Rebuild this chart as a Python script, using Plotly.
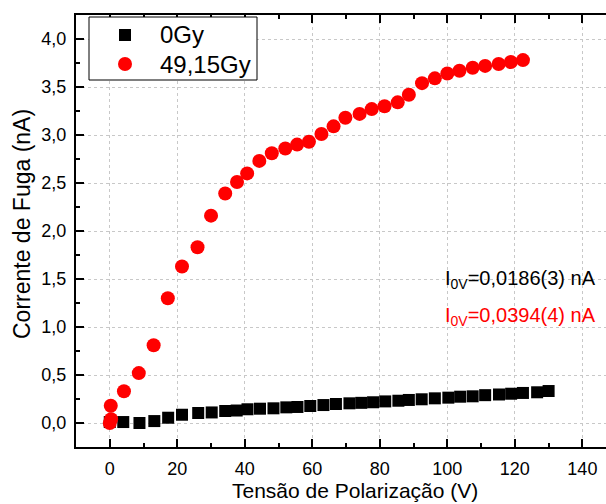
import plotly.graph_objects as go

# Bias voltage (V) and leakage current (nA) for the unirradiated sample
v_0gy = [0, 4, 8.8, 13.2, 17.3, 21.4, 26.2, 30.2, 34.2, 37.6, 40.8, 44.5, 48.5,
         52.3, 55.6, 59.4, 63.3, 67, 71, 74.5, 78, 81.6, 85.5, 88.6, 92.4, 96.3,
         100.3, 103.8, 107.5, 111.2, 115.3, 118.9, 122.4, 126.6, 130]
i_0gy = [0.01, 0.01, 0.0, 0.02, 0.055, 0.086, 0.104, 0.11, 0.125, 0.13, 0.143,
         0.149, 0.153, 0.163, 0.167, 0.177, 0.187, 0.198, 0.205, 0.21, 0.216,
         0.225, 0.232, 0.24, 0.247, 0.257, 0.264, 0.274, 0.278, 0.29, 0.297,
         0.305, 0.313, 0.32, 0.333]

# Bias voltage (V) and leakage current (nA) after 49,15 Gy
v_49gy = [0, 0.4, 0.3, 4.2, 8.6, 13, 17.2, 21.4, 26, 30, 34.2, 37.7, 40.7, 44.3,
          48, 52, 55.5, 59, 62.7, 66.3, 69.8, 74, 77.6, 81.4, 85.3, 88.6, 92.5,
          96.3, 100, 103.6, 107.5, 111.2, 115.2, 118.8, 122.4]
i_49gy = [0.0, 0.04, 0.18, 0.33, 0.52, 0.81, 1.30, 1.63, 1.83, 2.16, 2.39, 2.51,
          2.60, 2.73, 2.81, 2.86, 2.90, 2.93, 3.01, 3.09, 3.18, 3.22, 3.27, 3.30,
          3.34, 3.42, 3.54, 3.59, 3.64, 3.67, 3.70, 3.72, 3.74, 3.76, 3.78]

series_names = ["0Gy", "49,15Gy"]
series_colors = ["black", "#ff0000"]
series_symbols = ["square", "circle"]

x_ticks = [0, 20, 40, 60, 80, 100, 120, 140]
y_ticks = [0.0, 0.5, 1.0, 1.5, 2.0, 2.5, 3.0, 3.5, 4.0]

x_title = "Tensão de Polarização (V)"
y_title = "Corrente de Fuga (nA)"

FONT = "Arial"

# Figure geometry (pixels)
W, H = 606, 504
ML, MR, MT, MB = 76, 0, 15, 57
PW, PH = W - ML - MR, H - MT - MB


def px_x(p):
    return (p - ML) / PW


def px_y(p):
    return (H - MB - p) / PH


fig = go.Figure()
fig.add_trace(go.Scatter(
    x=v_0gy, y=i_0gy, mode="markers", name=series_names[0],
    marker=dict(symbol=series_symbols[0], size=12, color=series_colors[0],
                line=dict(width=0)),
))
fig.add_trace(go.Scatter(
    x=v_49gy, y=i_49gy, mode="markers", name=series_names[1],
    marker=dict(symbol=series_symbols[1], size=14, color=series_colors[1],
                line=dict(width=0)),
))

axis_common = dict(
    showline=True, linecolor="black", linewidth=2,
    ticks="inside", ticklen=8, tickwidth=2, tickcolor="black",
    showgrid=True, gridcolor="#c8c8c8", gridwidth=1, griddash="dot",
    zeroline=False,
    tickfont=dict(family=FONT, size=18, color="black"),
)

fig.update_xaxes(
    **axis_common,
    range=[-10, 147], tickvals=x_ticks, ticktext=[str(t) for t in x_ticks],
    mirror="ticks",
    minor=dict(ticks="inside", ticklen=4, tickwidth=2, tickcolor="black",
               dtick=10, tick0=0, showgrid=False),
    ticklabelstandoff=4,
)
fig.update_yaxes(
    **axis_common,
    range=[-0.25, 4.25], tickvals=y_ticks,
    ticktext=[f"{t:.1f}".replace(".", ",") for t in y_ticks],
    mirror=False,
    minor=dict(ticks="inside", ticklen=4, tickwidth=2, tickcolor="black",
               dtick=0.25, tick0=0, showgrid=False),
    ticklabelstandoff=4,
)

# Axis titles
fig.add_annotation(
    x=px_x(355), y=px_y(490), xref="paper", yref="paper",
    xanchor="center", yanchor="middle", text=x_title, showarrow=False,
    font=dict(family=FONT, size=21, color="black"),
)
fig.add_annotation(
    x=px_x(22), y=px_y(224), xref="paper", yref="paper",
    xanchor="center", yanchor="middle", text=y_title, showarrow=False,
    textangle=-90, font=dict(family=FONT, size=23, color="black"),
)

# Leakage current at zero bias for each sample
fig.add_annotation(
    x=px_x(598), y=1.5, xref="paper", yref="y", xanchor="right", yanchor="middle",
    text="I<sub>0V</sub>=0,0186(3) nA", showarrow=False,
    font=dict(family=FONT, size=20, color="black"),
)
fig.add_annotation(
    x=px_x(598), y=1.11, xref="paper", yref="y", xanchor="right", yanchor="middle",
    text="I<sub>0V</sub>=0,0394(4) nA", showarrow=False,
    font=dict(family=FONT, size=20, color="#ff0000"),
)

# Framed legend box in the upper-left corner
fig.add_shape(type="rect", xref="paper", yref="paper",
              x0=px_x(89), x1=px_x(257), y0=px_y(80), y1=px_y(17),
              line=dict(color="black", width=1), fillcolor="white", layer="above")
fig.add_shape(type="rect", xref="paper", yref="paper",
              x0=px_x(119), x1=px_x(131), y0=px_y(41), y1=px_y(29),
              line=dict(width=0), fillcolor=series_colors[0], layer="above")
fig.add_shape(type="circle", xref="paper", yref="paper",
              x0=px_x(118), x1=px_x(132), y0=px_y(71), y1=px_y(57),
              line=dict(width=0), fillcolor=series_colors[1], layer="above")
for name, cy in zip(series_names, [35, 64]):
    fig.add_annotation(
        x=px_x(158), y=px_y(cy), xref="paper", yref="paper",
        xanchor="left", yanchor="middle", text=name, showarrow=False,
        font=dict(family=FONT, size=24, color="black"),
    )

fig.update_layout(
    width=W, height=H,
    margin=dict(l=ML, r=MR, t=MT, b=MB),
    plot_bgcolor="white", paper_bgcolor="white",
    showlegend=False,
)

fig.write_html("out.html")
